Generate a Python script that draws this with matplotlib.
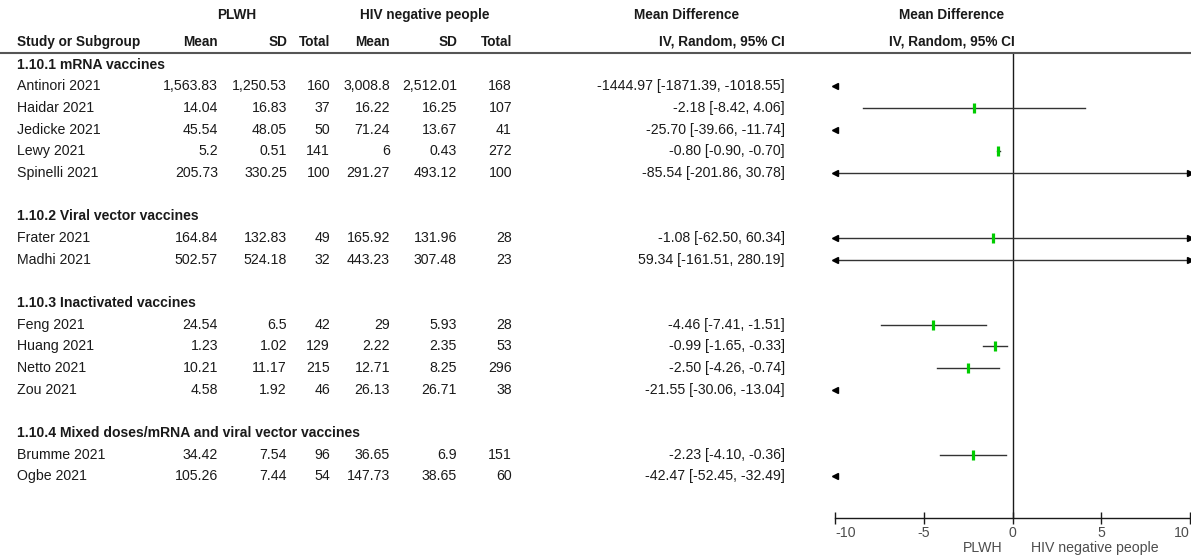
import matplotlib

matplotlib.use("Agg")
import matplotlib.pyplot as plt
from matplotlib import transforms

plt.rcParams["font.family"] = ["Liberation Sans", "DejaVu Sans"]

GROUPS = [
    "1.10.1 mRNA vaccines",
    "1.10.2 Viral vector vaccines",
    "1.10.3 Inactivated vaccines",
    "1.10.4 Mixed doses/mRNA and viral vector vaccines",
]
STUDIES = [
    "Antinori 2021", "Haidar 2021", "Jedicke 2021", "Lewy 2021", "Spinelli 2021",
    "Frater 2021", "Madhi 2021",
    "Feng 2021", "Huang 2021", "Netto 2021", "Zou 2021",
    "Brumme 2021", "Ogbe 2021",
]
GROUP_OF = [0, 0, 0, 0, 0, 1, 1, 2, 2, 2, 2, 3, 3]
PLWH_MEAN = ["1,563.83", "14.04", "45.54", "5.2", "205.73", "164.84", "502.57",
             "24.54", "1.23", "10.21", "4.58", "34.42", "105.26"]
PLWH_SD = ["1,250.53", "16.83", "48.05", "0.51", "330.25", "132.83", "524.18",
           "6.5", "1.02", "11.17", "1.92", "7.54", "7.44"]
PLWH_N = [160, 37, 50, 141, 100, 49, 32, 42, 129, 215, 46, 96, 54]
NEG_MEAN = ["3,008.8", "16.22", "71.24", "6", "291.27", "165.92", "443.23",
            "29", "2.22", "12.71", "26.13", "36.65", "147.73"]
NEG_SD = ["2,512.01", "16.25", "13.67", "0.43", "493.12", "131.96", "307.48",
          "5.93", "2.35", "8.25", "26.71", "6.9", "38.65"]
NEG_N = [168, 107, 41, 272, 100, 28, 23, 28, 53, 296, 38, 151, 60]
MD = [-1444.97, -2.18, -25.70, -0.80, -85.54, -1.08, 59.34,
      -4.46, -0.99, -2.50, -21.55, -2.23, -42.47]
CI_LO = [-1871.39, -8.42, -39.66, -0.90, -201.86, -62.50, -161.51,
         -7.41, -1.65, -4.26, -30.06, -4.10, -52.45]
CI_HI = [-1018.55, 4.06, -11.74, -0.70, 30.78, 60.34, 280.19,
         -1.51, -0.33, -0.74, -13.04, -0.36, -32.49]
X_TICKS = [-10, -5, 0, 5, 10]
X_LIM = (-10, 10)

W, H = 1191, 559
FS_BODY = 10.2
FS_GROUP = 10.1
FS_HEAD = 9.8
DARK = "#1a1a1a"
GREY = "#4d4d4d"
GREEN = "#00cc00"

# row layout: heading, studies, then a blank line per subgroup
heading_rows = []
study_rows = []
k = -1
for g in range(len(GROUPS)):
    heading_rows.append(k)
    k += 1
    for grp in GROUP_OF:
        if grp == g:
            study_rows.append(k)
            k += 1
    k += 1

fig = plt.figure(figsize=(W / 100, H / 100), dpi=100)
ax_t = fig.add_axes([0, 0, 1, 1])
ax_t.set_xlim(0, W)
ax_t.set_ylim(H, 0)
ax_t.axis("off")

ax_f = fig.add_axes([835 / W, (H - 518) / H, (1190 - 835) / W, (518 - 54) / H])
ax_f.set_xlim(*X_LIM)
ax_f.set_ylim(19.93, -1.50)
ax_f.patch.set_alpha(0)
for side in ["left", "right", "top"]:
    ax_f.spines[side].set_visible(False)
ax_f.spines["bottom"].set_color(DARK)
ax_f.spines["bottom"].set_linewidth(1.0)
ax_f.set_yticks([])
ax_f.set_xticks(X_TICKS)
ax_f.set_xticklabels([str(t) for t in X_TICKS], fontsize=FS_BODY, color=GREY)
ax_f.tick_params(axis="x", direction="inout", length=8, width=1.0, color=DARK, pad=2)
labels = ax_f.get_xticklabels()
labels[0].set_ha("left")
labels[-1].set_ha("right")
ax_f.axvline(0, color=DARK, linewidth=1.0)

lo_lim, hi_lim = X_LIM
arrow = dict(color="black", markersize=5, clip_on=False)
for row, md, lo, hi in zip(study_rows, MD, CI_LO, CI_HI):
    if hi < lo_lim:
        ax_f.plot([lo_lim], [row], marker="<", **arrow)
        continue
    if lo > hi_lim:
        ax_f.plot([hi_lim], [row], marker=">", **arrow)
        continue
    ax_f.plot([max(lo, lo_lim), min(hi, hi_lim)], [row, row], color="#333333",
              linewidth=1.0, clip_on=False)
    if lo < lo_lim:
        ax_f.plot([lo_lim], [row], marker="<", **arrow)
    if hi > hi_lim:
        ax_f.plot([hi_lim], [row], marker=">", **arrow)
    if lo_lim <= md <= hi_lim:
        ax_f.plot([md], [row], marker="|", color=GREEN, markersize=7.5,
                  markeredgewidth=2.3, clip_on=False)

# table text: x in pixels, y in forest rows
tr = transforms.blended_transform_factory(ax_t.transData, ax_f.transData)

hdr = dict(fontsize=FS_HEAD, fontweight="bold", color=DARK, va="center")
ax_t.text(237, 15, "PLWH", ha="center", **hdr)
ax_t.text(425, 15, "HIV negative people", ha="center", **hdr)
ax_t.text(687, 15, "Mean Difference", ha="center", **hdr)
ax_t.text(952, 15, "Mean Difference", ha="center", **hdr)
ax_t.text(17, 42, "Study or Subgroup", ha="left", **hdr)
for x, s in [(218, "Mean"), (287, "SD"), (330, "Total"),
             (390, "Mean"), (457, "SD"), (512, "Total"),
             (785, "IV, Random, 95% CI")]:
    ax_t.text(x, 42, s, ha="right", **hdr)
ax_t.text(952, 42, "IV, Random, 95% CI", ha="center", **hdr)
ax_t.plot([0, W], [53, 53], color="#555555", linewidth=1.5)

for row, name in zip(heading_rows, GROUPS):
    ax_t.text(17, row, name, transform=tr, ha="left", va="center",
              fontsize=FS_GROUP, fontweight="bold", color=DARK)

body = dict(transform=tr, va="center", fontsize=FS_BODY, color=DARK)
for i, row in enumerate(study_rows):
    ax_t.text(17, row, STUDIES[i], ha="left", **body)
    ax_t.text(218, row, PLWH_MEAN[i], ha="right", **body)
    ax_t.text(287, row, PLWH_SD[i], ha="right", **body)
    ax_t.text(330, row, str(PLWH_N[i]), ha="right", **body)
    ax_t.text(390, row, NEG_MEAN[i], ha="right", **body)
    ax_t.text(457, row, NEG_SD[i], ha="right", **body)
    ax_t.text(512, row, str(NEG_N[i]), ha="right", **body)
    ax_t.text(785, row, f"{MD[i]:.2f} [{CI_LO[i]:.2f}, {CI_HI[i]:.2f}]",
              ha="right", **body)

ax_t.text(983, 548, "PLWH", ha="center", va="center", fontsize=FS_BODY, color=GREY)
ax_t.text(1095, 548, "HIV negative people", ha="center", va="center",
          fontsize=FS_BODY, color=GREY)

fig.savefig("out.png", dpi=100)
